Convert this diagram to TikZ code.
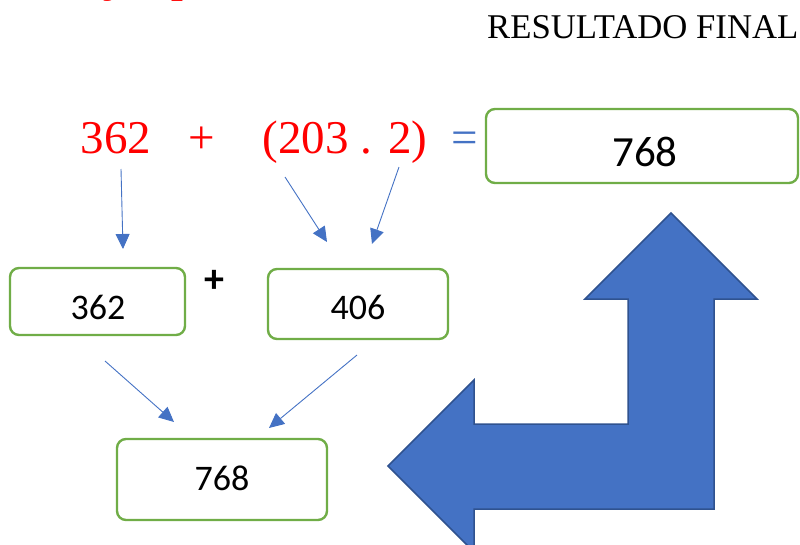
\documentclass[tikz,border=0pt]{standalone}
\usepackage{fontspec}
\setmainfont{Liberation Serif}
\newfontfamily\calfont{Carlito}
\usetikzlibrary{arrows.meta}
\definecolor{obox}{HTML}{70AD47}
\definecolor{oblue}{HTML}{4472C4}
\definecolor{odark}{HTML}{2F528F}
\tikzset{
  numbox/.style={draw=obox, line width=2.4pt, rounded corners=9pt, fill=white},
  conn/.style={draw=oblue, line width=0.9pt, -{Triangle[length=15pt,width=14pt]}},
  redtxt/.style={text=red, inner sep=0pt, font=\fontsize{47}{47}\selectfont},
}
\begin{document}
\begin{tikzpicture}[x=1pt,y=-1pt]
\useasboundingbox (0,0) rectangle (800,544);
% partially visible heading at the top
\node[anchor=base west, inner sep=0pt, text=red, font=\bfseries\fontsize{42}{42}\selectfont] (head) at (76,-8) {Ejemplo:};
% final result label
\node[anchor=base west, inner sep=0pt, font=\fontsize{34.7}{34.7}\selectfont] (resfin) at (487,38) {RESULTADO FINAL};
% equation
\node[redtxt, anchor=base] (a) at (116,153) {362};
\node[redtxt, anchor=base] (plus) at (202,153) {+};
\node[redtxt, anchor=base] (b) at (345,153) {(203 . 2)};
\node[redtxt, anchor=base, text=oblue] (eq) at (465,153) {=};
% boxes
\draw[numbox] (486,109) rectangle (798,183);
\node[font=\calfont\fontsize{43}{43}\selectfont] (top) at (645,152) {768};
\draw[numbox] (10,268) rectangle (185,335);
\node[font=\calfont\fontsize{36}{36}\selectfont] (l) at (98,307) {362};
\draw[numbox] (268,269) rectangle (448,339);
\node[font=\calfont\fontsize{36}{36}\selectfont] (r) at (358,307) {406};
\draw[numbox] (117,439) rectangle (327,520);
\node[font=\calfont\fontsize{36}{36}\selectfont] (res) at (222,478) {768};
\node[font=\calfont\bfseries\fontsize{40}{40}\selectfont, inner sep=0pt] (pl) at (214,281) {+};
% connectors
\coordinate (a1) at (121,169); \coordinate (a2) at (123,249);
\coordinate (b1) at (285,177); \coordinate (b2) at (327,242);
\coordinate (c1) at (399,167); \coordinate (c2) at (372,244);
\coordinate (d1) at (105,361); \coordinate (d2) at (174,422);
\coordinate (e1) at (357,355); \coordinate (e2) at (269,428);
\draw[conn] (a1) -- (a2);
\draw[conn] (b1) -- (b2);
\draw[conn] (c1) -- (c2);
\draw[conn] (d1) -- (d2);
\draw[conn] (e1) -- (e2);
% big bent arrow
\draw[fill=oblue, draw=odark, line width=1.5pt, line join=miter]
  (671,213) -- (757,299) -- (714,299) -- (714,509) -- (474,509) -- (474,552)
  -- (388,466) -- (474,380) -- (474,424) -- (628,424) -- (628,299) -- (585,299) -- cycle;
\end{tikzpicture}
\end{document}
